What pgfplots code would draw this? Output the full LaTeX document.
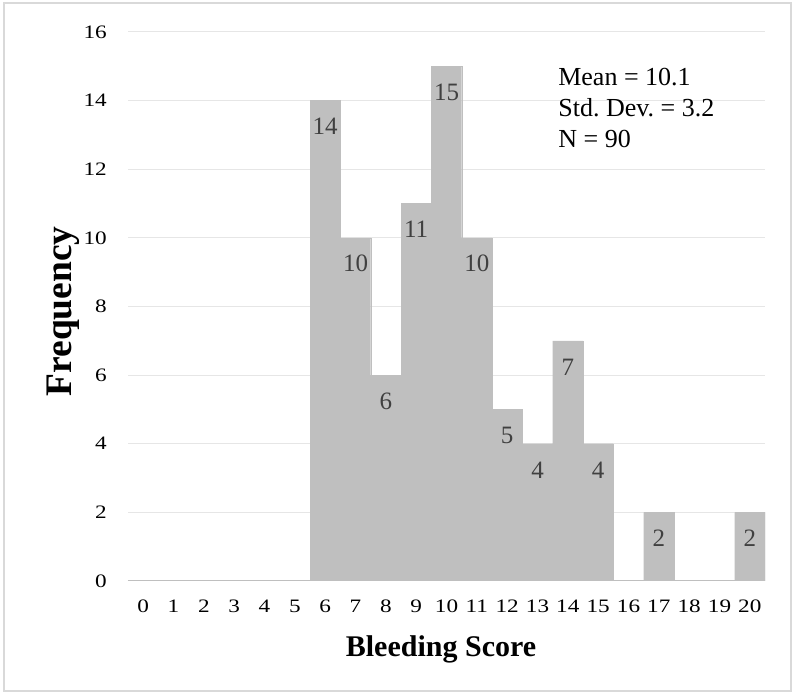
\documentclass[border=0pt]{standalone}
\usepackage{pgfplots}
\pgfplotsset{compat=1.18}
\usepackage{fontspec}
\setmainfont{Liberation Serif}
\newfontfamily\tickfont[FakeStretch=1.22]{Liberation Serif}
\definecolor{barcol}{HTML}{BFBFBF}
\definecolor{gridcol}{HTML}{E6E6E6}
\definecolor{framecol}{HTML}{D9D9D9}
\definecolor{labcol}{HTML}{404040}
\frenchspacing
\begin{document}
\begin{tikzpicture}
\begin{axis}[
  at={(0pt,0pt)}, anchor=south west,
  scale only axis, width=637pt, height=549pt,
  xmin=-0.5, xmax=20.5, ymin=0, ymax=16,
  xtick={0,...,20}, ytick={0,2,...,16},
  major tick length=0pt,
  axis line style={draw=none},
  ymajorgrids, grid style={gridcol, line width=1pt},
  /pgf/number format/assume math mode=true,
  xticklabel style={font=\tickfont\fontsize{19}{19}\selectfont, anchor=base, inner sep=0pt, yshift=-32pt},
  yticklabel style={font=\tickfont\fontsize{19}{19}\selectfont, anchor=east, inner sep=0pt, xshift=-21pt},
  xlabel={Bleeding Score},
  ylabel={Frequency},
  xlabel style={font=\bfseries\fontsize{30}{30}\selectfont, at={(axis description cs:0.4914,-0.1384)}, anchor=base},
  ylabel style={font=\bfseries\fontsize{37.5}{37.5}\selectfont, at={(axis description cs:-0.1020,0.491)}, anchor=center, rotate=0},
  ybar, bar width=1, /pgf/bar shift=0pt,
]
% zero-height bins
\addplot[fill=barcol, draw=barcol, line width=0.3pt] coordinates {
  (0,0) (1,0) (2,0) (3,0) (4,0) (5,0) (16,0) (18,0) (19,0)
};
% non-zero bins
\addplot[fill=barcol, draw=barcol, line width=0.3pt,
  nodes near coords,
  every node near coord/.append style={font=\fontsize{25}{25}\selectfont, text=labcol, inner sep=0pt, yshift=-34.5pt},
  /pgf/number format/assume math mode=true]
  coordinates {
  (6,14) (7,10) (8,6) (9,11) (10,15) (11,10) (12,5) (13,4) (14,7) (15,4) (17,2) (20,2)
};
\draw[barcol, line width=2pt] (axis cs:-0.5,0) -- (axis cs:20.5,0);
\node[anchor=north west, inner sep=0pt, align=left, font=\fontsize{26}{31}\selectfont]
  at (axis cs:13.68,14.95) {Mean = 10.1\\Std. Dev. = 3.2\\N = 90};
\end{axis}
\draw[framecol, line width=1.5pt] (-124pt,-110pt) rectangle (663pt,578pt);
\path[use as bounding box] (-128pt,-114pt) rectangle (667pt,581pt);
\end{tikzpicture}
\end{document}
